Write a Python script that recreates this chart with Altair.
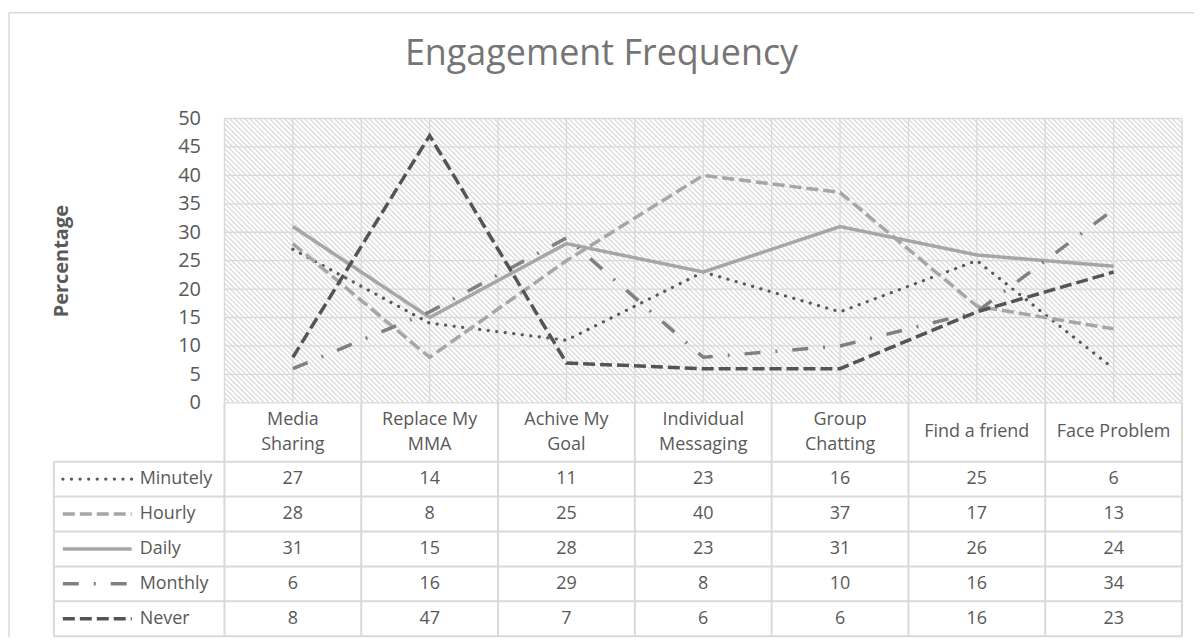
import altair as alt
import pandas as pd

# ---------------- data ----------------
categories = ["Media Sharing", "Replace My MMA", "Achive My Goal",
              "Individual Messaging", "Group Chatting", "Find a friend", "Face Problem"]
header_labels = ["Media\nSharing", "Replace My\nMMA", "Achive My\nGoal",
                 "Individual\nMessaging", "Group\nChatting", "Find a friend", "Face Problem"]
series = ["Minutely", "Hourly", "Daily", "Monthly", "Never"]
minutely = [27, 14, 11, 23, 16, 25, 6]
hourly = [28, 8, 25, 40, 37, 17, 13]
daily = [31, 15, 28, 23, 31, 26, 24]
monthly = [6, 16, 29, 8, 10, 16, 34]
never = [8, 47, 7, 6, 6, 16, 23]
y_ticks = [0, 5, 10, 15, 20, 25, 30, 35, 40, 45, 50]

values = {"Minutely": minutely, "Hourly": hourly, "Daily": daily,
          "Monthly": monthly, "Never": never}

# ---------------- layout / style ----------------
W, H = 960, 285
HEAD_H, ROW_H = 59, 35
N = len(categories)
NR = len(series)
FONT = "Open Sans"
TXT = "#595959"
GRID = "#d9d9d9"


def u(p):
    """pixel offset -> x data units"""
    return p * N / W


def v(p):
    """pixel offset (downwards from plot top) -> y data units"""
    return 50 - p * 50 / H


styles = {
    "Minutely": dict(color="#595959", strokeWidth=3.2, strokeDash=[0.1, 8.5], strokeCap="round"),
    "Hourly": dict(color="#a6a6a6", strokeWidth=3.5, strokeDash=[12, 5], strokeCap="butt"),
    "Daily": dict(color="#a6a6a6", strokeWidth=3.5, strokeCap="butt"),
    "Monthly": dict(color="#808080", strokeWidth=3.5, strokeDash=[16, 15, 2, 15], strokeCap="butt"),
    "Never": dict(color="#545454", strokeWidth=3.5, strokeDash=[12, 5], strokeCap="butt"),
}

rows = []
for r, s in enumerate(series):
    for i, (c, val) in enumerate(zip(categories, values[s])):
        rows.append({"series": s, "cat": c, "pos": i + 0.5, "value": val,
                     "row": r + 0.5, "label": str(val)})
long = pd.DataFrame(rows)

xs = alt.Scale(domain=[0, N], nice=False, zero=False)
ys = alt.Scale(domain=[0, 50], nice=False)
yaxis = alt.Axis(values=y_ticks, grid=False, domain=False, ticks=False,
                 labelFont=FONT, labelFontSize=20, labelColor=TXT, labelPadding=24,
                 title="Percentage", titleFont=FONT, titleFontSize=20, titleFontWeight="bold",
                 titleColor=TXT, titlePadding=106)

# ---------------- top panel: line chart ----------------
step = 5
ks = list(range(0, W + H + step, step))
hatch = pd.DataFrame({"x": [u(k - H) for k in ks], "x2": [u(k) for k in ks],
                      "y": [50] * len(ks), "y2": [0] * len(ks)})
hatch_layer = alt.Chart(hatch).mark_rule(clip=True, color="#dcdcdc", strokeWidth=1.4).encode(
    x=alt.X("x:Q", scale=xs, axis=None), x2="x2",
    y=alt.Y("y:Q", scale=ys, axis=yaxis), y2="y2")

hgrid = alt.Chart(pd.DataFrame({"y": y_ticks})).mark_rule(color=GRID, strokeWidth=1.3).encode(
    y=alt.Y("y:Q", scale=ys, axis=yaxis))
vgrid = alt.Chart(pd.DataFrame({"x": [i * 0.5 for i in range(2 * N + 1)]})).mark_rule(
    color=GRID, strokeWidth=1.3).encode(x=alt.X("x:Q", scale=xs, axis=None))

line_layers = []
for s in series:
    line_layers.append(
        alt.Chart(long[long.series == s]).mark_line(**styles[s]).encode(
            x=alt.X("pos:Q", scale=xs, axis=None),
            y=alt.Y("value:Q", scale=ys, axis=yaxis)))

# outer chart frame (left and top edges)
frame = pd.DataFrame({"x": [u(-216), u(-216)], "x2": [u(-216), u(972)],
                      "y": [v(-106), v(-106)], "y2": [v(520), v(-106)]})
frame_layer = alt.Chart(frame).mark_rule(color=GRID, strokeWidth=1.5).encode(
    x=alt.X("x:Q", scale=xs, axis=None), x2="x2",
    y=alt.Y("y:Q", scale=ys, axis=yaxis), y2="y2")

top = alt.layer(hatch_layer, hgrid, vgrid, *line_layers, frame_layer).properties(width=W, height=H)

# ---------------- header panel ----------------
hy = alt.Scale(domain=[0, 1], nice=False)
head_df = pd.DataFrame({"pos": [i + 0.5 for i in range(N)], "label": header_labels,
                        "yc": [0.5] * N,
                        "two": ["\n" in lb for lb in header_labels]})
head_two = alt.Chart(head_df[head_df.two]).mark_text(
    lineBreak="\n", lineHeight=25, font=FONT, fontSize=18, color=TXT,
    align="center", baseline="middle", dy=-12.5).encode(
    x=alt.X("pos:Q", scale=xs, axis=None), y=alt.Y("yc:Q", scale=hy, axis=None), text="label")
head_one = alt.Chart(head_df[~head_df.two]).mark_text(
    font=FONT, fontSize=18, color=TXT, align="center", baseline="middle").encode(
    x=alt.X("pos:Q", scale=xs, axis=None), y=alt.Y("yc:Q", scale=hy, axis=None), text="label")
head_v = alt.Chart(pd.DataFrame({"x": list(range(N + 1)), "y": [0] * (N + 1), "y2": [1] * (N + 1)})).mark_rule(
    color=GRID, strokeWidth=2).encode(x=alt.X("x:Q", scale=xs, axis=None),
                                      y=alt.Y("y:Q", scale=hy, axis=None), y2="y2")
header = alt.layer(head_v, head_two, head_one).properties(width=W, height=HEAD_H)

# ---------------- body panel (data table) ----------------
by = alt.Scale(domain=[0, NR], nice=False, reverse=True)
left_edge = u(-171)
b_h = alt.Chart(pd.DataFrame({"y": list(range(NR + 1)), "x": [left_edge] * (NR + 1),
                              "x2": [N] * (NR + 1)})).mark_rule(color=GRID, strokeWidth=2).encode(
    x=alt.X("x:Q", scale=xs, axis=None), x2="x2", y=alt.Y("y:Q", scale=by, axis=None))
b_v = alt.Chart(pd.DataFrame({"x": [left_edge] + list(range(N + 1)), "y": [0] * (N + 2),
                              "y2": [NR] * (N + 2)})).mark_rule(color=GRID, strokeWidth=2).encode(
    x=alt.X("x:Q", scale=xs, axis=None), y=alt.Y("y:Q", scale=by, axis=None), y2="y2")
b_text = alt.Chart(long).mark_text(font=FONT, fontSize=18, color=TXT, align="center",
                                   baseline="middle").encode(
    x=alt.X("pos:Q", scale=xs, axis=None), y=alt.Y("row:Q", scale=by, axis=None), text="label")
leg_df = pd.DataFrame({"series": series, "row": [r + 0.5 for r in range(NR)],
                       "lx": [u(-85)] * NR, "kx": [u(-162)] * NR, "kx2": [u(-93)] * NR})
b_lab = alt.Chart(leg_df).mark_text(font=FONT, fontSize=18, color=TXT, align="left",
                                    baseline="middle").encode(
    x=alt.X("lx:Q", scale=xs, axis=None), y=alt.Y("row:Q", scale=by, axis=None), text="series")
key_layers = []
for s in series:
    key_layers.append(alt.Chart(leg_df[leg_df.series == s]).mark_rule(**styles[s]).encode(
        x=alt.X("kx:Q", scale=xs, axis=None), x2="kx2", y=alt.Y("row:Q", scale=by, axis=None)))
body = alt.layer(b_h, b_v, b_text, b_lab, *key_layers).properties(width=W, height=NR * ROW_H)

chart = alt.vconcat(top, header, body, spacing=0, bounds="flush").properties(
    title=alt.TitleParams("Engagement Frequency", font=FONT, fontSize=36, fontWeight="normal",
                          color="#757575", anchor="middle", frame="bounds", offset=-89,
                          baseline="alphabetic"),
    padding={"left": 0, "top": 3, "right": 0, "bottom": 0},
).configure_view(stroke=None)

chart.save("out.html", embed_options={"renderer": "svg", "actions": False})
